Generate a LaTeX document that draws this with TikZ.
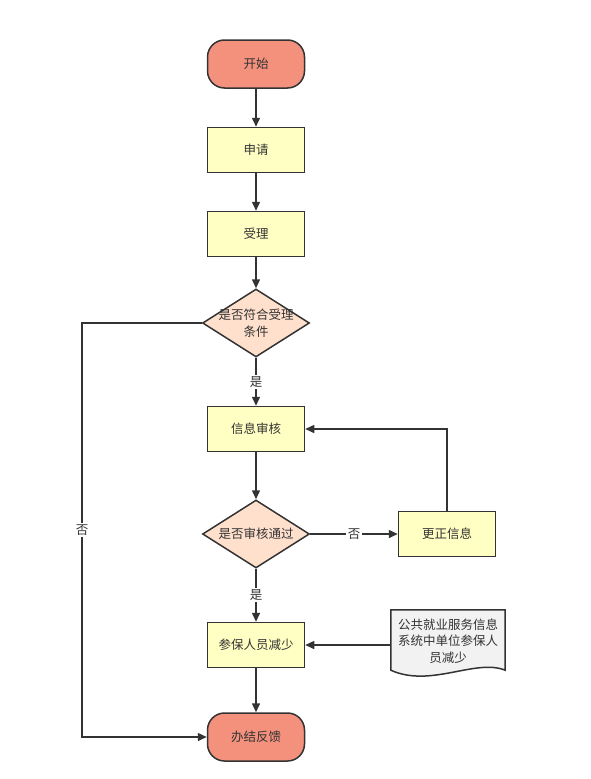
\documentclass[tikz,border=0pt]{standalone}
\usepackage{fontspec}
\setmainfont{Noto Sans CJK SC}
\usepackage{tikz}
\usetikzlibrary{shapes.geometric, arrows.meta}

\definecolor{termfill}{RGB}{243,145,124}
\definecolor{stepfill}{RGB}{255,255,196}
\definecolor{askfill}{RGB}{255,224,204}
\definecolor{docfill}{RGB}{242,242,242}
\definecolor{edge}{RGB}{51,51,51}

\begin{document}
\begin{tikzpicture}[x=1pt, y=-1pt,
  every node/.style={font=\fontsize{12.5}{16.5}\selectfont, text=edge},
  term/.style={draw=edge, line width=1.5pt, fill=termfill, rounded corners=17pt,
    minimum width=97pt, minimum height=48pt},
  stepbox/.style={draw=edge, line width=1.5pt, fill=stepfill,
    minimum width=97pt, minimum height=45pt},
  ask/.style={draw=edge, line width=1.5pt, fill=askfill, diamond, inner sep=0pt,
    minimum width=107pt, minimum height=68pt},
  docbox/.style={minimum width=114pt, minimum height=66pt, inner sep=0pt},
  flow/.style={draw=edge, line width=1.5pt, -{Triangle[length=9pt,width=8pt]}},
  tag/.style={fill=white, inner sep=1.5pt}]
\useasboundingbox (0,0) rectangle (590,779);

% main column
\node[term] (start) at (256,64) {开始};
\node[stepbox] (apply) at (256,150) {申请};
\node[stepbox] (accept) at (256,234) {受理};
\node[ask, label={[align=center]center:是否符合受理\\条件}] (cond) at (256,323) {};
\node[stepbox] (audit) at (256,429) {信息审核};
\node[ask, label={center:是否审核通过}] (pass) at (256,534) {};
\node[stepbox] (fix) at (447,534) {更正信息};
\node[stepbox] (reduce) at (256,645) {参保人员减少};
\node[term] (finish) at (256,737) {办结反馈};

% document
\node[docbox] (doc) at (448,643) {};
\draw[draw=edge, line width=1.5pt, fill=docfill]
  (doc.north west) -- (doc.north east) -- ([yshift=6pt]doc.south east)
  .. controls +(-30pt,12pt) and +(40pt,-18pt) .. ([yshift=6pt]doc.south west) -- cycle;
\node[align=center] (doctext) at ([yshift=2pt]doc.center) {公共就业服务信息\\系统中单位参保人\\员减少};

\coordinate (lft) at (82,323);

% connectors
\draw[flow] (start) -- (apply);
\draw[flow] (apply) -- (accept);
\draw[flow] (accept) -- (cond);
\draw[flow] (cond) -- node[tag] {是} (audit);
\draw[flow] (audit) -- (pass);
\draw[flow] (pass) -- node[tag] {否} (fix);
\draw[flow] (fix.north) |- (audit.east);
\draw[flow] (pass) -- node[tag] {是} (reduce);
\draw[flow] (doc.west |- reduce) -- (reduce.east);
\draw[flow] (reduce) -- (finish);
\draw[flow] (cond.west) -- (lft) |- node[tag, pos=0.25] {否} (finish.west);
\end{tikzpicture}
\end{document}
